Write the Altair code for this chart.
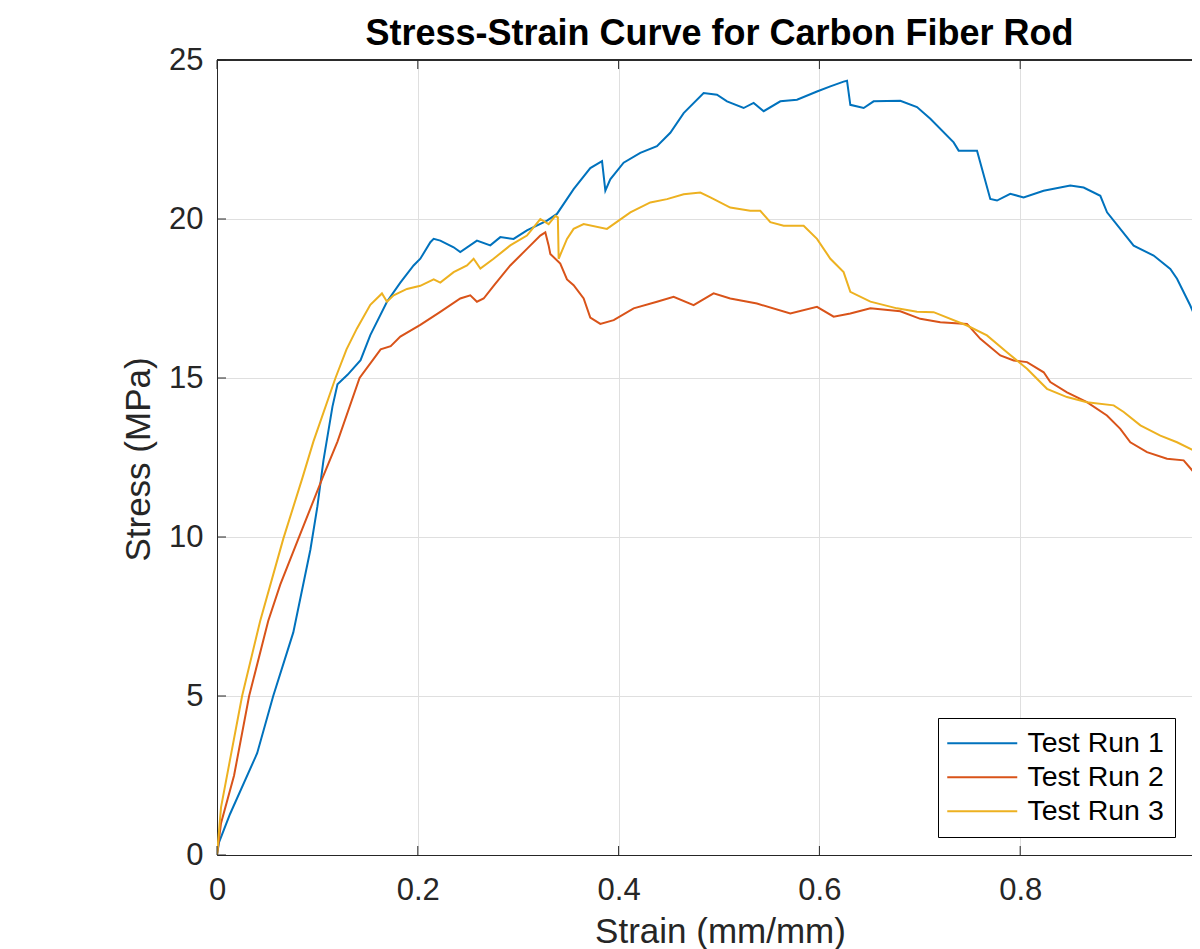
import altair as alt
import pandas as pd

# ---------------- data ----------------
series_names = ["Test Run 1", "Test Run 2", "Test Run 3"]
series_colors = ["#0072BD", "#D95319", "#EDB120"]

run1_strain = [0, 0.002, 0.013, 0.040, 0.056, 0.076, 0.093, 0.100, 0.106, 0.115, 0.120, 0.130, 0.143,
               0.1527, 0.1693, 0.1826, 0.1958, 0.2025, 0.2125, 0.2158, 0.2224, 0.2357, 0.2423, 0.2589,
               0.2722, 0.2822, 0.2954, 0.3087, 0.3287, 0.3386, 0.3552, 0.3718, 0.3835, 0.3868, 0.3917,
               0.4050, 0.4216, 0.4382, 0.4515, 0.4648, 0.4847, 0.4980, 0.5080, 0.5245, 0.5345, 0.5445,
               0.5611, 0.5777, 0.5976, 0.6109, 0.6241, 0.6275, 0.6308, 0.6441, 0.6540, 0.6806, 0.6972,
               0.7105, 0.7337, 0.7387, 0.7570, 0.7620, 0.7702, 0.7769, 0.7901, 0.8034, 0.8233, 0.8499,
               0.8632, 0.8798, 0.8865, 0.9130, 0.9329, 0.9495, 0.9562, 0.9694, 0.9794]
run1_stress = [0, 0.4, 1.29, 3.2, 5.0, 7.0, 9.6, 10.96, 12.4, 14.1, 14.8, 15.1, 15.56,
               16.35, 17.4, 18.0, 18.54, 18.75, 19.27, 19.375, 19.32, 19.11, 18.96, 19.32,
               19.17, 19.43, 19.375, 19.64, 19.95, 20.16, 20.94, 21.6, 21.82, 20.89, 21.25,
               21.77, 22.08, 22.29, 22.71, 23.33, 23.96, 23.91, 23.70, 23.49, 23.65, 23.39,
               23.70, 23.75, 24.01, 24.17, 24.32, 24.35, 23.59, 23.49, 23.70, 23.72, 23.52,
               23.15, 22.41, 22.15, 22.15, 21.57, 20.63, 20.58, 20.79, 20.68, 20.89, 21.05,
               20.99, 20.73, 20.21, 19.16, 18.85, 18.43, 18.12, 17.28, 16.54]

run2_strain = [0, 0.004, 0.017, 0.032, 0.051, 0.063, 0.081, 0.105, 0.120, 0.142, 0.163, 0.173,
               0.1826, 0.2025, 0.2224, 0.2423, 0.2523, 0.2589, 0.2656, 0.2755, 0.2921, 0.3087,
               0.3220, 0.3270, 0.3303, 0.3320, 0.3419, 0.3486, 0.3552, 0.3652, 0.3718, 0.3818,
               0.3951, 0.4150, 0.4382, 0.4548, 0.4747, 0.4946, 0.5112, 0.5378, 0.5710, 0.5976,
               0.6142, 0.6308, 0.6508, 0.6806, 0.7005, 0.7204, 0.7470, 0.7603, 0.7802, 0.7935,
               0.8068, 0.8234, 0.8300, 0.8466, 0.8665, 0.8864, 0.8997, 0.9097, 0.9263, 0.9462,
               0.9628, 0.9728, 0.9794]
run2_stress = [0, 1.0, 2.5, 5.0, 7.36, 8.5, 9.94, 11.85, 13.0, 15.0, 15.9, 16.0,
               16.3, 16.67, 17.08, 17.5, 17.6, 17.4, 17.5, 17.9, 18.54, 19.06,
               19.48, 19.58, 19.17, 18.9, 18.6, 18.1, 17.92, 17.5, 16.9, 16.7,
               16.82, 17.19, 17.40, 17.55, 17.29, 17.66, 17.5, 17.34, 17.03, 17.24,
               16.93, 17.03, 17.19, 17.1, 16.86, 16.75, 16.70, 16.23, 15.71, 15.55,
               15.50, 15.18, 14.87, 14.55, 14.24, 13.82, 13.40, 12.98, 12.67, 12.46,
               12.41, 12.04, 11.88]

run3_strain = [0, 0.004, 0.025, 0.043, 0.066, 0.085, 0.096, 0.118, 0.129, 0.1394, 0.1527, 0.1643,
               0.1693, 0.1759, 0.1892, 0.2025, 0.2158, 0.2224, 0.2357, 0.2490, 0.2556, 0.2623,
               0.2755, 0.2921, 0.3087, 0.3220, 0.3303, 0.3370, 0.3395, 0.3403, 0.3486, 0.3552,
               0.3652, 0.3884, 0.4117, 0.4316, 0.4482, 0.4648, 0.4814, 0.4914, 0.5112, 0.5311,
               0.5411, 0.5511, 0.5644, 0.5843, 0.5976, 0.6109, 0.6241, 0.6308, 0.6508, 0.6773,
               0.6972, 0.7138, 0.7470, 0.7669, 0.7868, 0.8068, 0.8267, 0.8466, 0.8665, 0.8931,
               0.9031, 0.9197, 0.9396, 0.9562, 0.9728, 0.9794]
run3_stress = [0, 1.5, 5.0, 7.36, 9.94, 11.85, 13.0, 15.0, 15.9, 16.56, 17.3, 17.66,
               17.4, 17.6, 17.8, 17.9, 18.1, 18.0, 18.33, 18.54, 18.75, 18.44,
               18.75, 19.17, 19.48, 20.0, 19.84, 20.1, 20.05, 18.75, 19.375, 19.69,
               19.84, 19.69, 20.21, 20.52, 20.625, 20.78, 20.83, 20.68, 20.36, 20.26,
               20.26, 19.9, 19.79, 19.79, 19.375, 18.75, 18.33, 17.71, 17.40, 17.19,
               17.08, 17.07, 16.65, 16.34, 15.81, 15.29, 14.66, 14.40, 14.24, 14.14,
               13.93, 13.51, 13.19, 12.98, 12.72, 12.57]

x_ticks = [0, 0.2, 0.4, 0.6, 0.8]
y_ticks = [0, 5, 10, 15, 20, 25]

title_text = "Stress-Strain Curve for Carbon Fiber Rod"
x_title = "Strain (mm/mm)"
y_title = "Stress (MPa)"

# ---------------- build table ----------------
rows = []
for name, xs, ys in zip(series_names,
                        [run1_strain, run2_strain, run3_strain],
                        [run1_stress, run2_stress, run3_stress]):
    for i, (a, b) in enumerate(zip(xs, ys)):
        rows.append({"run": name, "strain": a, "stress": b, "idx": i})
df = pd.DataFrame(rows)
xt = pd.DataFrame({"v": x_ticks})
yt = pd.DataFrame({"v": y_ticks})

W, H = 975, 795
X_MAX = 975 / 1004
FONT = "Liberation Sans"
AX = "#262626"

x_scale = alt.Scale(domain=[0, X_MAX], nice=False, zero=False)
y_scale = alt.Scale(domain=[0, 25], nice=False)

x_axis = alt.Axis(values=x_ticks, format="~g", title=x_title, grid=True,
                  gridColor="#dfdfdf", domainColor=AX, ticks=False, tickSize=0,
                  labelFontSize=31, labelPadding=20, labelColor=AX, labelFont=FONT,
                  labelFlush=False,
                  titleFontSize=35, titleFontWeight="normal", titleColor=AX, titleFont=FONT,
                  titleX=503, titleY=87, titleAlign="center", titleBaseline="alphabetic")
y_axis = alt.Axis(values=y_ticks, format="d", title=y_title, grid=True,
                  gridColor="#dfdfdf", domainColor=AX, ticks=False, tickSize=0,
                  labelFontSize=31, labelPadding=14, labelColor=AX, labelFont=FONT,
                  labelFlush=False,
                  titleFontSize=35, titleFontWeight="normal", titleColor=AX, titleFont=FONT,
                  titleAngle=270, titleX=-68, titleY=399, titleAlign="center",
                  titleBaseline="alphabetic")

lines = alt.Chart(df).mark_line(strokeWidth=2, clip=True).encode(
    x=alt.X("strain:Q", scale=x_scale, axis=x_axis),
    y=alt.Y("stress:Q", scale=y_scale, axis=y_axis),
    color=alt.Color("run:N", scale=alt.Scale(domain=series_names, range=series_colors),
                    legend=alt.Legend(title=None, orient="none", legendX=721, legendY=658,
                                      symbolType="M-1.6,0H5.4", symbolSize=400, symbolStrokeWidth=2,
                                      symbolFillColor="transparent",
                                      labelFontSize=28.5, labelFont=FONT, labelColor="black",
                                      labelOffset=50, rowPadding=5, padding=11,
                                      strokeColor="black", fillColor="white", cornerRadius=0)),
    order=alt.Order("idx:Q"),
)

xticks_bottom = alt.Chart(xt).mark_rule(color=AX, strokeWidth=1).encode(
    x=alt.X("v:Q", scale=x_scale, axis=x_axis), y=alt.value(H), y2=alt.value(H - 9))
xticks_top = alt.Chart(xt).mark_rule(color=AX, strokeWidth=1).encode(
    x=alt.X("v:Q", scale=x_scale, axis=x_axis), y=alt.value(0), y2=alt.value(9))
yticks_left = alt.Chart(yt).mark_rule(color=AX, strokeWidth=1).encode(
    y=alt.Y("v:Q", scale=y_scale, axis=y_axis), x=alt.value(0), x2=alt.value(9))
top_border = alt.Chart(xt).mark_rule(color=AX, strokeWidth=1).encode(
    x=alt.value(0), x2=alt.value(W), y=alt.value(0))

chart = alt.layer(lines, xticks_bottom, xticks_top, yticks_left, top_border).properties(
    width=W, height=H,
    title=alt.TitleParams(title_text, fontSize=36, fontWeight="bold", font=FONT, color="black",
                          anchor="middle", dx=15, offset=-9),
    autosize=alt.AutoSizeParams(type="none"),
    padding={"left": 209, "top": 52, "right": 0, "bottom": 94},
).configure_view(strokeWidth=0).configure(font=FONT, background="white")

chart.save("out.html", embed_options={"renderer": "svg", "actions": False})
